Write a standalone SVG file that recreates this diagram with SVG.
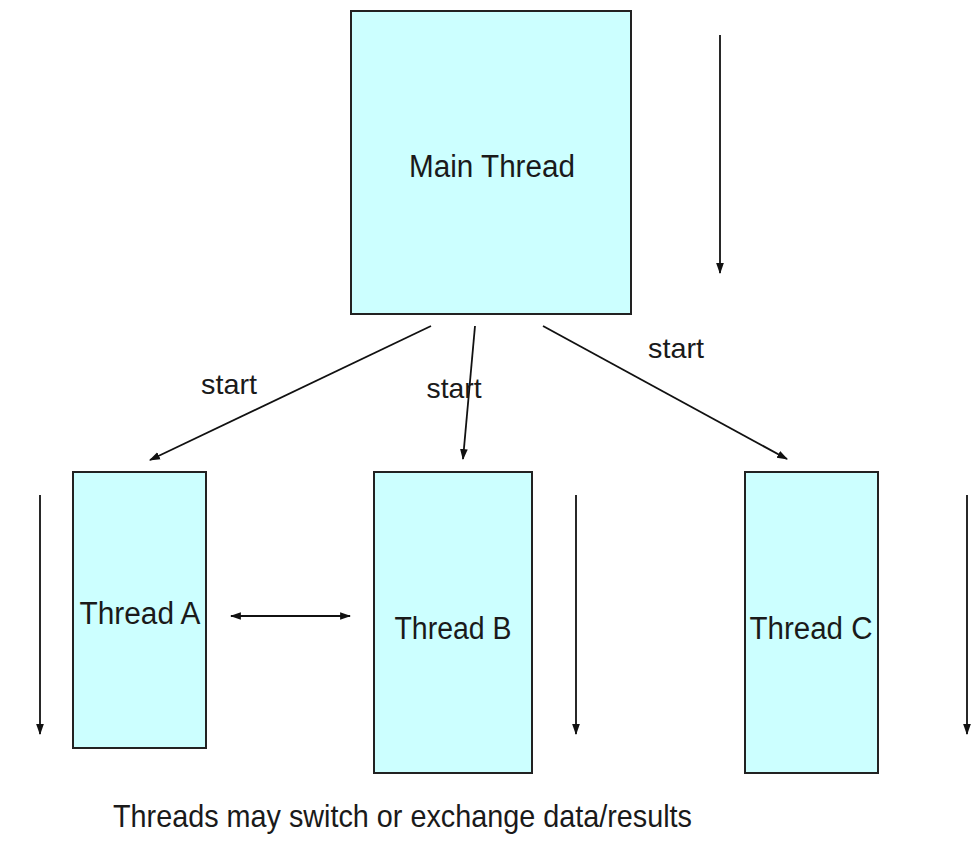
<svg xmlns="http://www.w3.org/2000/svg" width="973" height="849" viewBox="0 0 973 849">
<style>
.box{fill:#ccffff;stroke:#222;stroke-width:2}
.t{font-family:"Liberation Sans",Arial,sans-serif;fill:#1a1a1a}
.c{stroke:#111;stroke-width:1.8;fill:none}
</style>
<defs>
<marker id="ah" viewBox="0 0 10 10" refX="9" refY="5" markerWidth="11" markerHeight="11" markerUnits="userSpaceOnUse" orient="auto-start-reverse">
<path d="M0,1.5 L10,5 L0,8.5 z" fill="#111"/>
</marker>
</defs>
<rect width="973" height="849" fill="#fff"/>
<g id="main">
<rect class="box" x="351" y="11" width="280" height="303"/>
<text class="t" x="492" y="177" font-size="31" text-anchor="middle" textLength="166" lengthAdjust="spacingAndGlyphs">Main Thread</text>
</g>
<g id="threadA">
<rect class="box" x="73" y="472" width="133" height="276"/>
<text class="t" x="140" y="624" font-size="31" text-anchor="middle" textLength="121" lengthAdjust="spacingAndGlyphs">Thread A</text>
</g>
<g id="threadB">
<rect class="box" x="374" y="472" width="158" height="301"/>
<text class="t" x="453" y="639" font-size="31" text-anchor="middle" textLength="117" lengthAdjust="spacingAndGlyphs">Thread B</text>
</g>
<g id="threadC">
<rect class="box" x="745" y="472" width="133" height="301"/>
<text class="t" x="811" y="639" font-size="31" text-anchor="middle" textLength="123" lengthAdjust="spacingAndGlyphs">Thread C</text>
</g>
<g id="connectors">
<line class="c" x1="720" y1="35" x2="720" y2="273" marker-end="url(#ah)"/>
<line class="c" x1="40" y1="495" x2="40" y2="734" marker-end="url(#ah)"/>
<line class="c" x1="576" y1="495" x2="576" y2="734" marker-end="url(#ah)"/>
<line class="c" x1="967" y1="495" x2="967" y2="734" marker-end="url(#ah)"/>
<line class="c" x1="231" y1="616" x2="350" y2="616" marker-start="url(#ah)" marker-end="url(#ah)"/>
<line class="c" x1="431" y1="326" x2="150" y2="460" marker-end="url(#ah)"/>
<line class="c" x1="475" y1="326" x2="463" y2="459" marker-end="url(#ah)"/>
<line class="c" x1="543" y1="326" x2="787" y2="459" marker-end="url(#ah)"/>
<text class="t" x="229" y="394" font-size="28" text-anchor="middle" textLength="56" lengthAdjust="spacingAndGlyphs">start</text>
<text class="t" x="454" y="398" font-size="28" text-anchor="middle" textLength="55" lengthAdjust="spacingAndGlyphs">start</text>
<text class="t" x="676" y="358" font-size="28" text-anchor="middle" textLength="56" lengthAdjust="spacingAndGlyphs">start</text>
</g>
<text class="t" x="113" y="827" font-size="32" textLength="579" lengthAdjust="spacingAndGlyphs">Threads may switch or exchange data/results</text>
</svg>
